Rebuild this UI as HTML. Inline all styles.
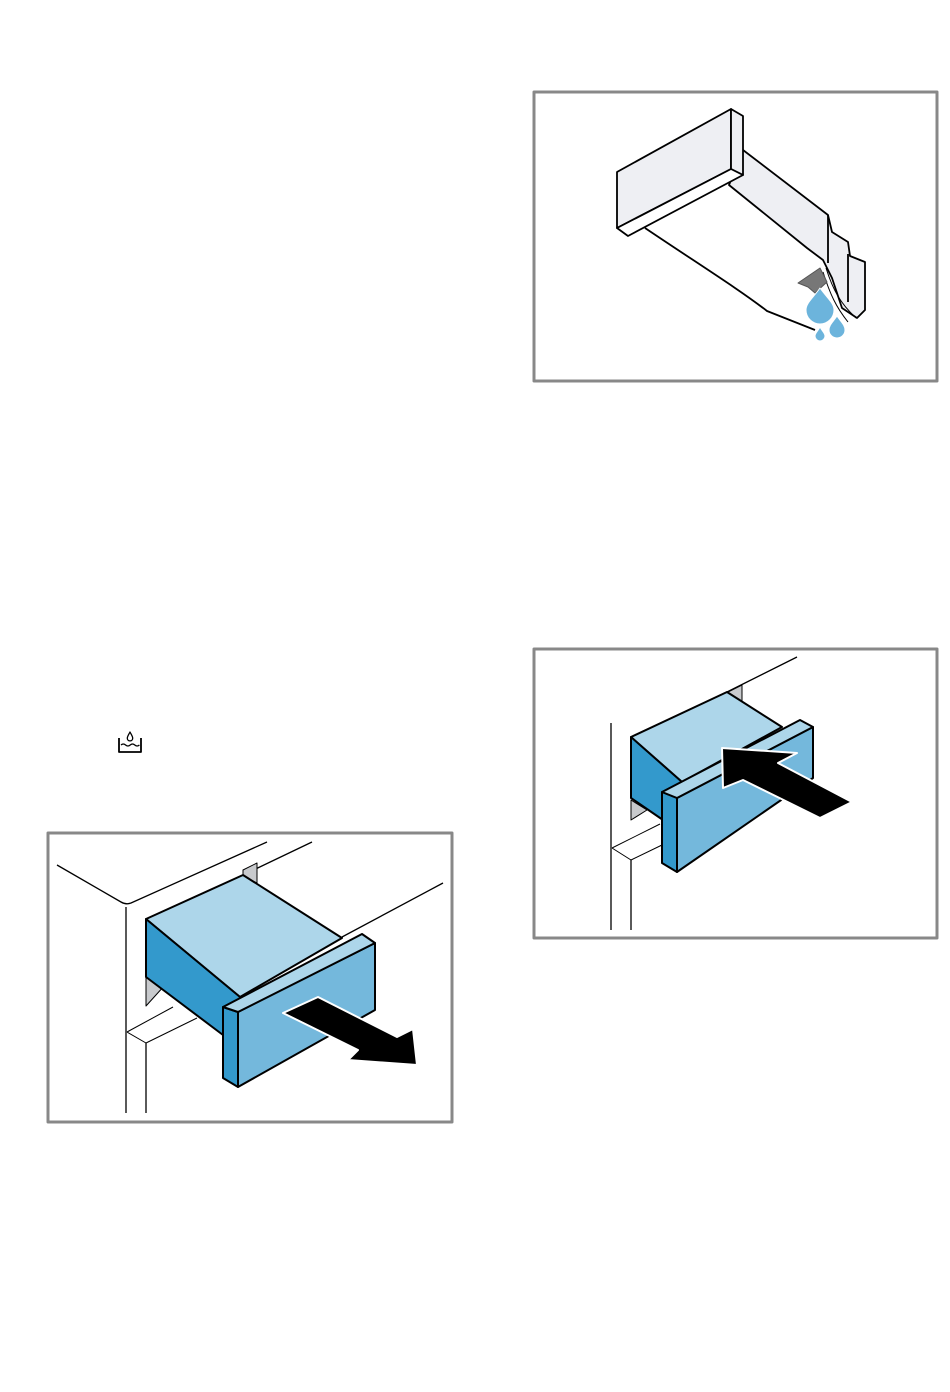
<!DOCTYPE html>
<html><head><meta charset="utf-8"><style>
html,body{margin:0;padding:0;background:#fff;}
svg{display:block;}
</style></head><body>
<svg width="950" height="1392" viewBox="0 0 950 1392" xmlns="http://www.w3.org/2000/svg" stroke-linejoin="round">
<!-- Panel 1 -->
<rect x="534" y="92" width="403" height="289" fill="#fff" stroke="#888" stroke-width="3"/>
<g stroke="#000" stroke-width="1.8">
<path d="M645,228 C700,265 740,290 767,311 L815,330" fill="#fff"/>
<polygon points="743,150 828,215 832,232 848,242 850,256 865,262 865,310 857,318 842,308 832,278 823,260 807,248 729,185" fill="#eeeff3"/>
<line x1="828" y1="215" x2="828" y2="263"/>
<line x1="848" y1="254" x2="848" y2="302"/>
<path d="M826,268 C833,290 840,303 856,318" fill="none" stroke-width="1"/>
<path d="M823,272 C830,294 836,307 848,322" fill="none" stroke-width="1"/>
<polygon points="617,172 731,109 731,169 617,228" fill="#eeeff3"/>
<polygon points="731,109 743,116 743,175 731,169" fill="#eeeff3"/>
<polygon points="617,228 731,169 743,175 628,236" fill="#fff"/>
</g>
<polygon points="798,283 820,268 827,282 815,293 808,287" fill="#777" stroke="#555"/>
<g fill="#6cb4dc" stroke="#fff" stroke-width="1">
<path d="M820,288 C813,298 806,303 806,310 A14,14 0 0 0 834,310 C834,303 827,298 820,288Z"/>
<path d="M837,316 C833,322 829,325 829,330 A8,8 0 0 0 845,330 C845,325 841,322 837,316Z"/>
<path d="M820,327 C818,331 815,333 815,336 A5,5 0 0 0 825,336 C825,333 822,331 820,327Z"/>
</g>

<!-- Panel 2 -->
<rect x="48" y="833" width="404" height="289" fill="#fff" stroke="#888" stroke-width="3"/>
<g stroke="#000" fill="none" stroke-width="1.3">
<path d="M57,865 L121,902 Q126,905 131,903 L267,842"/>
<path d="M312,842 L243,875"/>
<path d="M443,883 L342,937"/>
<path d="M126,907 L126,1113"/>
<path d="M146,1043 L146,1113"/>
<path d="M127,1032 L146,1043 L197,1018" stroke-width="1"/>
<path d="M127,1032 L173,1007" stroke-width="1"/>
</g>
<polygon points="243,870 257,863 257,883 243,876" fill="#c8cacd" stroke="#000" stroke-width="1"/>
<polygon points="146,975 165,985 146,1006" fill="#c8cacd" stroke="#000" stroke-width="1"/>
<g stroke="#000" stroke-width="2">
<polygon points="146,919 243,875 342,938 240,997" fill="#add6ea"/>
<polygon points="146,919 240,997 240,1003 223,1035 146,977" fill="#3399cc"/>
<polygon points="238,1012 375,943 375,1010 238,1087" fill="#74b8dc"/>
<polygon points="223,1007 238,1012 238,1087 223,1078" fill="#3399cc"/>
<polygon points="223,1007 362,934 375,943 238,1012" fill="#add6ea"/>
</g>
<polygon points="283,1013 318,997 397,1037 413,1029 417,1065 348,1060 358,1050" fill="#000" stroke="#fff" stroke-width="2"/>

<!-- Panel 3 -->
<rect x="534" y="649" width="403" height="289" fill="#fff" stroke="#888" stroke-width="3"/>
<g stroke="#000" fill="none" stroke-width="1.3">
<path d="M797,657 L727,692"/>
<path d="M611,723 L611,930"/>
<path d="M631,860 L631,930"/>
<path d="M612,848 L631,860 L662,845" stroke-width="1"/>
<path d="M612,848 L660,824" stroke-width="1"/>
</g>
<polygon points="728,692 742,685 742,702 728,697" fill="#c8cacd" stroke="#000" stroke-width="1"/>
<polygon points="631,800 647,810 631,820" fill="#c8cacd" stroke="#000" stroke-width="1"/>
<g stroke="#000" stroke-width="2">
<polygon points="631,737 727,692 782,727 682,782" fill="#add6ea"/>
<polygon points="631,737 682,782 663,820 631,798" fill="#3399cc"/>
<polygon points="677,798 813,727 813,778 677,872" fill="#74b8dc"/>
<polygon points="662,792 677,798 677,872 662,863" fill="#3399cc"/>
<polygon points="662,792 800,720 813,727 677,798" fill="#add6ea"/>
</g>
<polygon points="722,748 797,753 778,763 852,802 820,818 743,780 723,788" fill="#000" stroke="#fff" stroke-width="2"/>

<!-- icon -->
<g stroke="#000" stroke-width="1.8" fill="none">
<path d="M119,738 L119,752 L141,752 L141,738"/>
<path d="M121,745 q2.3,-2 4.6,0 t4.6,0 t4.6,0 t4.6,0" stroke-width="1.3"/>
<path d="M130,732 C128.5,735 127.3,736.5 127.3,738.2 A2.7,2.7 0 0 0 132.7,738.2 C132.7,736.5 131.5,735 130,732Z" stroke-width="1.3"/>
</g>
</svg>
</body></html>
